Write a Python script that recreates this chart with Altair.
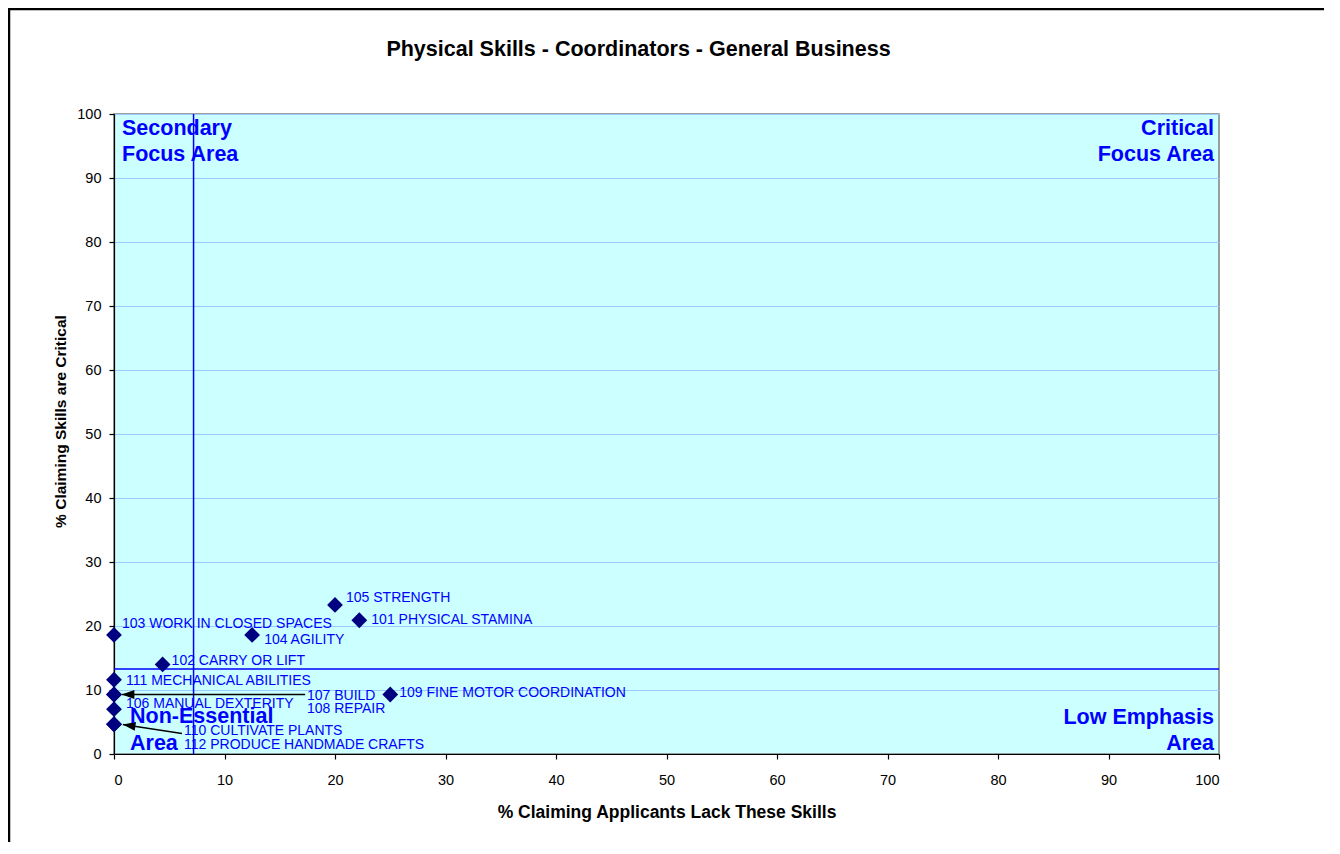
import math
import altair as alt
import pandas as pd

# ---------------- data ----------------
codes = ["101", "102", "103", "104", "105", "106", "107", "108", "109", "110", "111", "112"]
skills = ["PHYSICAL STAMINA", "CARRY OR LIFT", "WORK IN CLOSED SPACES", "AGILITY", "STRENGTH",
          "MANUAL DEXTERITY", "BUILD", "REPAIR", "FINE MOTOR COORDINATION", "CULTIVATE PLANTS",
          "MECHANICAL ABILITIES", "PRODUCE HANDMADE CRAFTS"]
lack_pct = [22.2, 4.4, 0.0, 12.5, 20.0, 0.0, 0.0, 0.0, 25.0, 0.0, 0.0, 0.0]
critical_pct = [20.9, 14.0, 18.6, 18.6, 23.3, 7.0, 9.3, 9.3, 9.3, 4.65, 11.6, 4.65]

# quadrant dividers
divider_x = 7.2
divider_y = 13.3

# leader arrows (from label to point), in data units
arrow_from_x = [17.3, 6.15]
arrow_from_y = [9.3, 3.2]
arrow_to_x = [0.7, 0.8]
arrow_to_y = [9.3, 4.6]

x_ticks = list(range(0, 101, 10))
y_ticks = list(range(0, 101, 10))

title_text = "Physical Skills - Coordinators - General Business"
x_title = "% Claiming Applicants Lack These Skills"
y_title = "% Claiming Skills are Critical"

# ---------------- styles ----------------
W, H = 1105, 640
FONT = "Liberation Sans"
BLUE = "#0000FF"
NAVY = "#000080"

# label offsets (pixels) for each point label, in the order of codes
label_offsets = [(12, 0), (9, -3), (8, -11), (12, 5), (11, -7), (12, -5),
                 (193, 2), (193, 15), (9, -1), (70, 7), (12, 1), (70, 21)]

xs = alt.Scale(domain=[0, 100], nice=False, zero=True)
ys = alt.Scale(domain=[0, 100], nice=False, zero=True)

x_axis = alt.Axis(values=x_ticks, grid=False, title=x_title, titleFontSize=17.5,
                  titleFontWeight="bold", titleY=58, titleBaseline="middle",
                  labelPadding=14, labelFontSize=14.5)
y_axis = alt.Axis(values=y_ticks, grid=True, gridColor="#99CCFF", gridWidth=1,
                  title=y_title, titleFontSize=15.5, titleFontWeight="bold",
                  titleAngle=270, titleX=-54, titleY=307, titleBaseline="middle",
                  titleAlign="center", labelPadding=8, labelFontSize=14.5)


def X(field="x"):
    return alt.X(f"{field}:Q", scale=xs, axis=x_axis, title=x_title)


def Y(field="y"):
    return alt.Y(f"{field}:Q", scale=ys, axis=y_axis, title=y_title)


pts = pd.DataFrame({"x": lack_pct, "y": critical_pct,
                    "label": [f"{c} {s}" for c, s in zip(codes, skills)]})

vline = alt.Chart(pd.DataFrame({"x": [divider_x]})).mark_rule(
    color=BLUE, strokeWidth=1.5).encode(x=X())
hline = alt.Chart(pd.DataFrame({"y": [divider_y]})).mark_rule(
    color=BLUE, strokeWidth=1.5).encode(y=Y())

points = alt.Chart(pts).mark_point(shape="diamond", filled=True, size=250,
                                   color=NAVY, opacity=1).encode(x=X(), y=Y())

label_layers = []
for i in range(len(codes)):
    dx, dy = label_offsets[i]
    label_layers.append(
        alt.Chart(pts.iloc[[i]]).mark_text(
            align="left", baseline="middle", dx=dx, dy=dy, font=FONT,
            fontSize=14, color=BLUE).encode(x=X(), y=Y(), text="label:N"))

arr = pd.DataFrame({"x": arrow_from_x, "y": arrow_from_y,
                    "x2": arrow_to_x, "y2": arrow_to_y})
arrow_lines = alt.Chart(arr).mark_rule(color="black", strokeWidth=1.5).encode(
    x=X(), y=Y(), x2="x2:Q", y2="y2:Q")

head_layers = []
for i in range(len(arrow_to_x)):
    dpx = (arrow_to_x[i] - arrow_from_x[i]) * W / 100
    dpy = -(arrow_to_y[i] - arrow_from_y[i]) * H / 100
    ang = math.degrees(math.atan2(-dpy, -dpx)) % 360
    head_layers.append(
        alt.Chart(arr.iloc[[i]]).mark_point(
            shape="M0,0L2,-0.7L2,0.7Z", filled=True, size=160, color="black",
            opacity=1, angle=ang).encode(x=X("x2"), y=Y("y2")))

# quadrant annotations: (line, anchor x, anchor y, align, dx, dy)
quadrants = [
    ("Secondary", 0, 100, "left", 8, 15),
    ("Focus Area", 0, 100, "left", 8, 41),
    ("Critical", 100, 100, "right", -5, 15),
    ("Focus Area", 100, 100, "right", -5, 41),
    ("Low Emphasis", 100, 0, "right", -5, -36),
    ("Area", 100, 0, "right", -5, -10),
    ("Non-Essential", 0, 0, "left", 16, -37),
    ("Area", 0, 0, "left", 16, -10),
]
quad_layers = []
for txt, qx, qy, al, dx, dy in quadrants:
    quad_layers.append(
        alt.Chart(pd.DataFrame({"x": [qx], "y": [qy], "t": [txt]})).mark_text(
            align=al, baseline="middle", dx=dx, dy=dy, font=FONT, fontSize=21.5,
            fontWeight="bold", color=BLUE).encode(x=X(), y=Y(), text="t:N"))

# chart title, centred a little left of the plot centre
title_layer = alt.Chart(pd.DataFrame({"x": [50], "y": [100], "t": [title_text]})).mark_text(
    align="center", baseline="alphabetic", dx=-28, dy=-58, font=FONT, fontSize=21.5,
    fontWeight="bold", color="black").encode(x=X(), y=Y(), text="t:N")

# decorative outer frame of the chart sheet
frame = alt.Chart(pd.DataFrame({"a": [0]})).mark_rect(
    fill=None, stroke="black", strokeWidth=2.5, clip=False).encode(
    x=alt.value(-105), x2=alt.value(1260), y=alt.value(-105), y2=alt.value(800))

chart = alt.layer(
    vline, hline, *label_layers, arrow_lines, *head_layers, points,
    *quad_layers, title_layer, frame
).properties(
    width=W, height=H,
    autosize=alt.AutoSizeParams(type="none"),
    padding={"left": 106, "top": 106, "right": 105, "bottom": 88},
).configure(
    font=FONT, background="white"
).configure_view(
    fill="#CCFFFF", stroke="#808080", strokeWidth=1.5
).configure_axis(
    labelFont=FONT, titleFont=FONT, labelColor="black", titleColor="black",
    tickColor="black", domainColor="black", tickSize=5, domainWidth=1.2,
    tickWidth=1.2
)

chart.save("out.html", embed_options={"renderer": "svg", "actions": False})
